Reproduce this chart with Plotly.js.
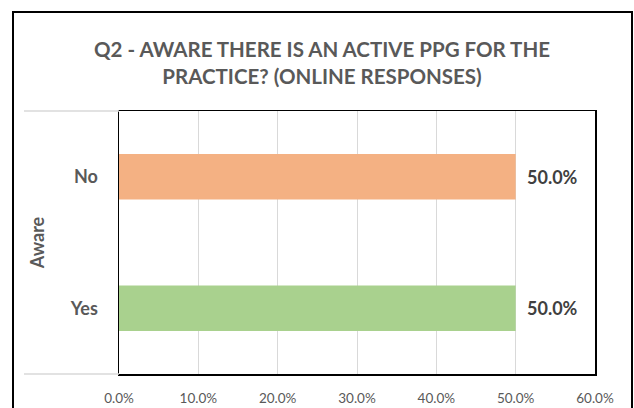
<!DOCTYPE html>
<html>
<head>
<meta charset="utf-8">
<script src="https://cdn.plot.ly/plotly-3.0.1.min.js"></script>
<style>html,body{margin:0;padding:0;background:#fff;}#chart{width:634px;height:408px;}</style>
</head>
<body>
<div id="chart"></div>
<script>
const categories = ['Yes', 'No'];
const values = [0.5, 0.5];
const barColors = ['#A9D18E', '#F4B183'];
const xTickVals = [0, 0.1, 0.2, 0.3, 0.4, 0.5, 0.6];

const W = 634, H = 408;
const L = 119, R = 39, T = 111, B = 34;
const pw = W - L - R, ph = H - T - B;
const px = x => (x - L) / pw;
const py = y => (H - B - y) / ph;

const trace = {
  type: 'bar',
  orientation: 'h',
  y: categories,
  x: values,
  marker: {color: barColors},
  hoverinfo: 'none'
};

const labelAnnotations = categories.map((c, i) => ({
  x: values[i], y: c, xref: 'x', yref: 'y',
  text: '<b>' + (values[i] * 100).toFixed(1) + '%</b>',
  showarrow: false, xanchor: 'left', yanchor: 'middle', xshift: 9,
  font: {family: 'Lato, sans-serif', size: 18, color: '#404040'}
}));

const layout = {
  width: W, height: H,
  margin: {l: L, r: R, t: T, b: B},
  paper_bgcolor: '#ffffff',
  plot_bgcolor: '#ffffff',
  showlegend: false,
  bargap: 0.654,
  title: {
    text: '<b>Q2 - AWARE THERE IS AN ACTIVE PPG FOR THE<br>PRACTICE? (ONLINE RESPONSES)</b>',
    font: {family: 'Lato, sans-serif', size: 20.5, color: '#595959'},
    x: 322 / W, xref: 'container', xanchor: 'center',
    y: 1 - 57 / H, yref: 'container', yanchor: 'middle'
  },
  xaxis: {
    range: [0, 0.6],
    tickvals: xTickVals,
    tickformat: '.1%',
    showgrid: true, gridcolor: '#D9D9D9', gridwidth: 1,
    showline: true, linecolor: '#000000', linewidth: 1.5, mirror: true,
    zeroline: false,
    ticks: '',
    ticklabelstandoff: 11,
    tickfont: {family: 'Lato, sans-serif', size: 13.5, color: '#595959'},
    fixedrange: true
  },
  yaxis: {
    type: 'category',
    categoryorder: 'array', categoryarray: categories,
    showgrid: false,
    showline: true, linecolor: '#000000', linewidth: 1.5, mirror: true,
    ticks: '',
    ticklabelstandoff: 16,
    tickfont: {family: 'Lato, sans-serif', size: 18, color: '#595959', weight: 'bold'},
    title: {text: '<b>Aware</b>', font: {family: 'Lato, sans-serif', size: 18, color: '#595959'}, standoff: 20},
    fixedrange: true
  },
  annotations: labelAnnotations,
  shapes: [
    {type: 'line', xref: 'paper', yref: 'paper', x0: px(24), x1: 0, y0: 1, y1: 1, line: {color: '#D9D9D9', width: 1.5}},
    {type: 'line', xref: 'paper', yref: 'paper', x0: px(24), x1: 0, y0: 0, y1: 0, line: {color: '#D9D9D9', width: 1.5}},
    {type: 'rect', xref: 'paper', yref: 'paper', x0: px(13), x1: px(632), y0: py(12), y1: py(420), line: {color: '#000000', width: 2}, fillcolor: 'rgba(0,0,0,0)', layer: 'above'}
  ]
};

Plotly.newPlot('chart', [trace], layout, {displayModeBar: false, staticPlot: true});
</script>
</body>
</html>
